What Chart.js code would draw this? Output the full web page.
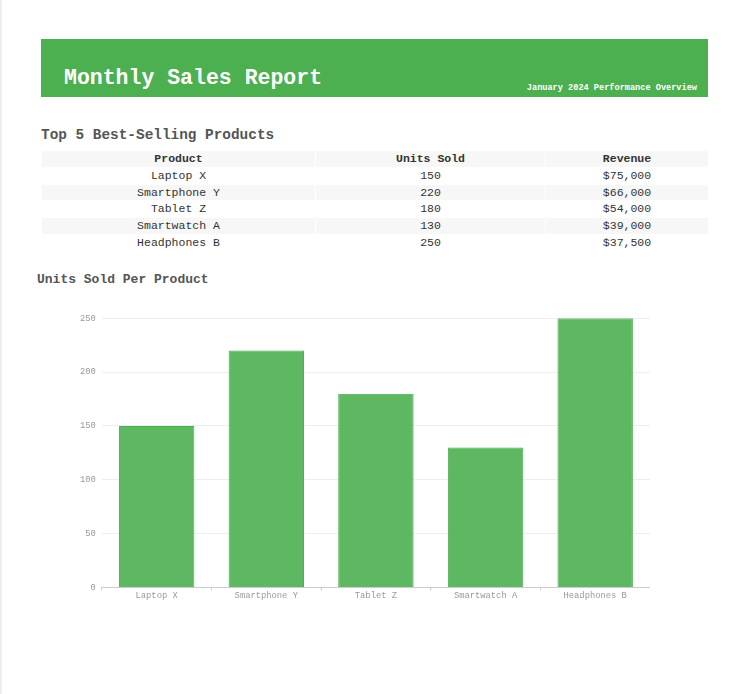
<!DOCTYPE html>
<html>
<head>
<meta charset="utf-8">
<script src="https://cdn.jsdelivr.net/npm/chart.js@4"></script>
<style>
  html, body { margin: 0; padding: 0; background: #fff; }
  body { font-family: "Liberation Mono", "Courier New", monospace; color: #333; }
  .page { position: relative; width: 749px; height: 694px; border-left: 2px solid #eee; box-sizing: border-box; }
  .header {
    position: absolute; left: 39px; top: 39px; width: 667px; height: 58px;
    background: #4CAF50; color: #fff; box-sizing: border-box;
  }
  .header h1 { position: absolute; left: 23px; top: 26px; margin: 0; font-size: 21.5px; line-height: 26px; font-weight: bold; }
  .header .sub { position: absolute; right: 11px; top: 43px; font-size: 8.6px; line-height: 12px; font-weight: bold; }
  h2 { position: absolute; margin: 0; font-weight: bold; color: #555; }
  #t-title { left: 39px; top: 126px; font-size: 14.4px; line-height: 18px; }
  #c-title { left: 35px; top: 272px; font-size: 13px; line-height: 16px; }
  table { position: absolute; left: 39px; top: 150px; border-collapse: separate; border-spacing: 1px 1px; font-size: 11.5px; }
  th, td { text-align: center; padding: 0; height: 15.8px; line-height: 15.8px; }
  thead th { background: #f7f7f7; font-weight: bold; }
  tbody tr:nth-child(even) td { background: #f7f7f7; }
  .chart-box { position: absolute; left: 72px; top: 307px; width: 576px; height: 294px; }
</style>
</head>
<body>
<div class="page">
  <div class="header">
    <h1>Monthly Sales Report</h1>
    <div class="sub">January 2024 Performance Overview</div>
  </div>
  <h2 id="t-title">Top 5 Best-Selling Products</h2>
  <table id="tbl">
    <thead><tr><th style="width:273px">Product</th><th style="width:229px">Units Sold</th><th style="width:162px">Revenue</th></tr></thead>
    <tbody></tbody>
  </table>
  <h2 id="c-title">Units Sold Per Product</h2>
  <div class="chart-box"><canvas id="bar-chart"></canvas></div>
</div>
<script>
const products = ["Laptop X", "Smartphone Y", "Tablet Z", "Smartwatch A", "Headphones B"];
const unitsSold = [150, 220, 180, 130, 250];
const revenue = ["$75,000", "$66,000", "$54,000", "$39,000", "$37,500"];
const yTicks = [0, 50, 100, 150, 200, 250];

// table rows
const tbody = document.querySelector("#tbl tbody");
tbody.innerHTML = products.map((p, i) => `
  <tr><td>${p}</td><td>${unitsSold[i]}</td><td>${revenue[i]}</td></tr>
`).join("");

const mono = "'Liberation Mono', 'Courier New', monospace";
const ctx = document.getElementById("bar-chart").getContext("2d");
new Chart(ctx, {
  type: "bar",
  data: {
    labels: products,
    datasets: [{
      label: "Units Sold",
      data: unitsSold,
      backgroundColor: "rgba(76, 175, 80, 0.9)",
      borderColor: "#4CAF50",
      borderWidth: 1,
      barPercentage: 0.86,
      categoryPercentage: 0.8
    }]
  },
  options: {
    responsive: true,
    maintainAspectRatio: false,
    animation: false,
    plugins: { legend: { display: false }, tooltip: { enabled: false } },
    scales: {
      x: {
        grid: { drawOnChartArea: false, drawTicks: true, tickLength: 3, color: "#ccc" },
        border: { color: "#ccc" },
        ticks: { color: "#999", font: { family: mono, size: 8.8 }, padding: 0 }
      },
      y: {
        min: yTicks[0],
        max: yTicks[yTicks.length - 1],
        afterBuildTicks: axis => { axis.ticks = yTicks.map(v => ({ value: v })); },
        grid: { color: "#eee", drawTicks: false },
        border: { display: false },
        ticks: { color: "#999", font: { family: mono, size: 8.8 }, padding: 6 }
      }
    }
  }
});
</script>
</body>
</html>
